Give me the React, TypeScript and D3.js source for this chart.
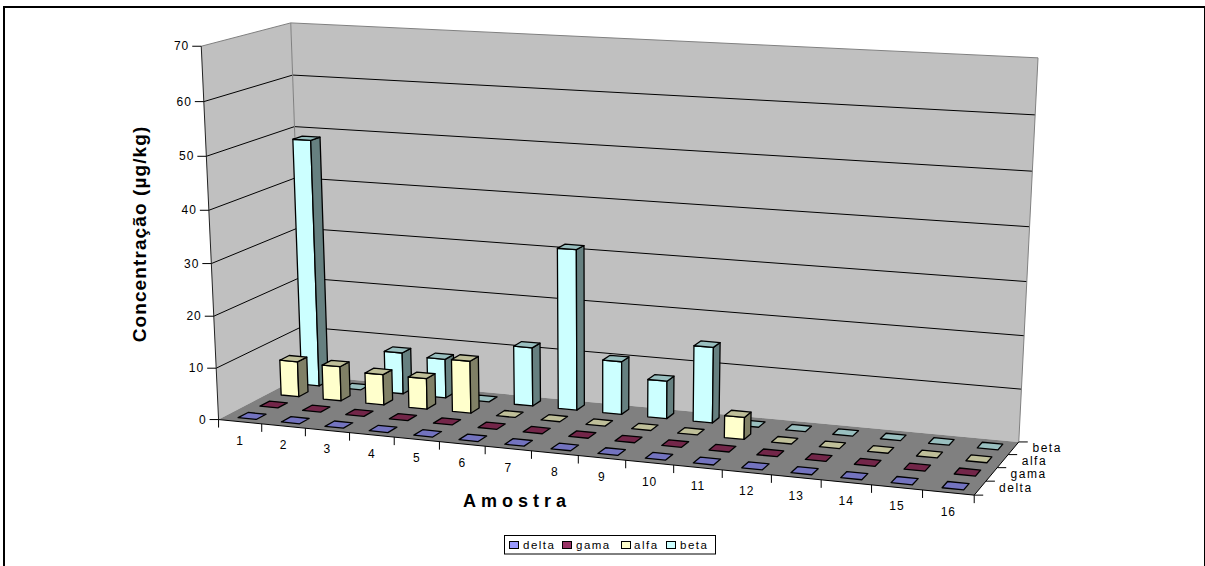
import React, { useMemo } from "react";
import * as d3 from "d3";

// Sample labels and tick values
const samples = ["1","2","3","4","5","6","7","8","9","10","11","12","13","14","15","16"];
const seriesNames = ["delta","gama","alfa","beta"];
const valueTicks = [0,10,20,30,40,50,60,70];

// Concentration per sample (µg/kg)
const delta = [0,0,0,0,0,0,0,0,0,0,0,0,0,0,0,0];
const gama = [0,0,0,0,0,0,0,0,0,0,0,0,0,0,0,0];
const alfa = [7,6.8,6,6,10.2,0,0,0,0,0,4.2,0,0,0,0,0];
const beta = [48.7,0,8.2,7.7,0,11.5,31.2,10.3,7.3,14.6,0,0,0,0,0,0];
const seriesValues = [delta, gama, alfa, beta];

// Face colours per series: front, top, side
const frontColors = ["#9999FF","#993366","#FFFFCC","#CCFFFF"];
const topColors = ["#7373BF","#732649","#BFBF99","#99BFBF"];
const sideColors = ["#4D4D80","#4D1A33","#808066","#668080"];

const FONT = "'Liberation Sans', Arial, sans-serif";

type V3 = [number, number, number];

// Camera calibration: box corners in unit coordinates and where they land on the page
const boxCorners: [V3, [number, number]][] = [
  [[0,0,0],[219,419]],
  [[1,0,0],[974,496]],
  [[1,0,1],[1019,441]],
  [[0,0,1],[303,376]],
  [[0,1,0],[201,46]],
  [[0,1,1],[291,23]],
  [[1,1,1],[1038,58]],
];

// Least-squares fit of a 3x4 projective camera with its last entry fixed to 1
function fitCamera(pairs: [V3,[number,number]][]): number[] {
  const rows: number[][] = [];
  const rhs: number[] = [];
  for (const [[X,Y,Z],[u,v]] of pairs) {
    rows.push([X,Y,Z,1,0,0,0,0,-u*X,-u*Y,-u*Z]); rhs.push(u);
    rows.push([0,0,0,0,X,Y,Z,1,-v*X,-v*Y,-v*Z]); rhs.push(v);
  }
  const n = 11;
  const A = d3.range(n).map(i => {
    const r = d3.range(n).map(j => d3.sum(rows, row => row[i]*row[j]));
    r.push(d3.sum(rows, (row,k) => row[i]*rhs[k]));
    return r;
  });
  for (let c = 0; c < n; c++) {
    let piv = c;
    for (let r = c+1; r < n; r++) if (Math.abs(A[r][c]) > Math.abs(A[piv][c])) piv = r;
    [A[c],A[piv]] = [A[piv],A[c]];
    for (let r = 0; r < n; r++) {
      if (r === c) continue;
      const f = A[r][c]/A[c][c];
      for (let k = c; k <= n; k++) A[r][k] -= f*A[c][k];
    }
  }
  return d3.range(n).map(i => A[i][n]/A[i][i]);
}

export default function App() {
  const cam = useMemo(() => fitCamera(boxCorners), []);
  const project = (x:number,y:number,z:number):[number,number] => {
    const w = cam[8]*x+cam[9]*y+cam[10]*z+1;
    return [(cam[0]*x+cam[1]*y+cam[2]*z+cam[3])/w,(cam[4]*x+cam[5]*y+cam[6]*z+cam[7])/w];
  };
  const poly = (pts:[number,number][]) => pts.map(p => `${p[0].toFixed(2)},${p[1].toFixed(2)}`).join(" ");

  const yScale = d3.scaleLinear().domain([0,70]).range([0,1]);
  const xScale = d3.scaleBand<string>().domain(samples).range([0,1]).paddingInner(0.58).paddingOuter(0.29).align(0.54);
  const zScale = d3.scaleBand<string>().domain(seriesNames).range([0,1]).paddingInner(0.55).paddingOuter(0.275);
  const tickSlot = d3.scaleLinear().domain([0,samples.length]).range([0,1]);
  const depthSlot = d3.scaleLinear().domain([0,seriesNames.length]).range([0,1]);
  const labelSlot = d3.scaleBand<string>().domain(samples).range([0,1]);

  const walls = [
    { pts:[[0,0,0],[0,1,0],[0,1,1],[0,0,1]] as V3[], fill:"#C0C0C0" },
    { pts:[[0,0,1],[0,1,1],[1,1,1],[1,0,1]] as V3[], fill:"#C0C0C0" },
    { pts:[[0,0,0],[1,0,0],[1,0,1],[0,0,1]] as V3[], fill:"#808080" },
  ];

  // Back rows are painted first so nearer bars cover them
  const bars = d3.range(seriesNames.length - 1, -1, -1).flatMap(si =>
    samples.map((s,i) => {
      const x0 = xScale(s)!, x1 = x0 + xScale.bandwidth();
      const z0 = zScale(seriesNames[si])!, z1 = z0 + zScale.bandwidth();
      const top = yScale(seriesValues[si][i]);
      return {
        key:`${si}-${i}`, si, height: top,
        front:[project(x0,0,z0),project(x1,0,z0),project(x1,top,z0),project(x0,top,z0)],
        side:[project(x1,0,z0),project(x1,0,z1),project(x1,top,z1),project(x1,top,z0)],
        cap:[project(x0,top,z0),project(x1,top,z0),project(x1,top,z1),project(x0,top,z1)],
      };
    })
  );

  const legendItems = [
    { keyX:509, textX:523 },
    { keyX:562, textX:576 },
    { keyX:621, textX:634 },
    { keyX:666, textX:680 },
  ];

  const edge = (a:V3,b:V3,stroke:string,k:string) => {
    const p=project(...a), q=project(...b);
    return <line key={k} x1={p[0]} y1={p[1]} x2={q[0]} y2={q[1]} stroke={stroke} strokeWidth={1}/>;
  };

  return (
    <svg width={1205} height={566} style={{position:"absolute",left:0,top:0,background:"#fff"}} fontFamily={FONT}>
      {/* Page frame, open at the bottom */}
      <rect x={3} y={6} width={2} height={560} fill="#000"/>
      <rect x={3} y={6} width={1202} height={2} fill="#000"/>
      <rect x={1204} y={6} width={1} height={560} fill="#000"/>

      {walls.map((w,i) => <polygon key={i} points={poly(w.pts.map(p => project(...p)))} fill={w.fill}/>)}

      {/* Grid lines across both walls */}
      {valueTicks.slice(1,-1).map(v => {
        const y = yScale(v);
        return <polyline key={v} fill="none" stroke="#000" strokeWidth={1}
          points={poly([project(0,y,0),project(0,y,1),project(1,y,1)])}/>;
      })}

      {/* Wall and floor outlines */}
      {edge([0,1,0],[0,1,1],"#808080","e1")}
      {edge([0,1,1],[1,1,1],"#808080","e2")}
      {edge([0,0,1],[0,1,1],"#808080","e3")}
      {edge([1,0,1],[1,1,1],"#808080","e4")}
      {edge([0,0,0],[0,1,0],"#222","e5")}
      {edge([0,0,0],[1,0,0],"#000","e6")}
      {edge([1,0,0],[1,0,1],"#000","e7")}

      {/* Value axis */}
      {valueTicks.map(v => {
        const p = project(0,yScale(v),0);
        return <g key={v}>
          <line x1={p[0]-9} y1={p[1]} x2={p[0]} y2={p[1]} stroke="#000"/>
          <text x={p[0]-12} y={p[1]+4} textAnchor="end" fontSize={12} letterSpacing={1} fill="#000">{v}</text>
        </g>;
      })}

      {/* Sample axis */}
      {d3.range(samples.length+1).map(i => {
        const p = project(tickSlot(i),0,0);
        return <line key={i} x1={p[0]} y1={p[1]} x2={p[0]} y2={p[1]+8} stroke="#000"/>;
      })}
      {samples.map(s => {
        const p = project(labelSlot(s)!+labelSlot.bandwidth()/2,0,0);
        return <text key={s} x={p[0]} y={p[1]+23} textAnchor="middle" fontSize={12} letterSpacing={1} fill="#000">{s}</text>;
      })}

      {/* Series axis */}
      {d3.range(seriesNames.length+1).map(i => {
        const p = project(1,0,depthSlot(i));
        return <line key={i} x1={p[0]} y1={p[1]} x2={p[0]+9} y2={p[1]} stroke="#000"/>;
      })}
      {seriesNames.map(s => {
        const p = project(1,0,zScale(s)!+zScale.bandwidth()/2);
        return <text key={s} x={p[0]+19} y={p[1]+4} fontSize={12} letterSpacing={1.5} fill="#000">{s}</text>;
      })}

      {/* Bars */}
      {bars.map(b => (
        <g key={b.key} stroke="#000" strokeWidth={1.3} strokeLinejoin="round">
          {b.height > 0 && <polygon points={poly(b.front)} fill={frontColors[b.si]}/>}
          {b.height > 0 && <polygon points={poly(b.side)} fill={sideColors[b.si]}/>}
          <polygon points={poly(b.cap)} fill={topColors[b.si]}/>
        </g>
      ))}

      {/* Axis titles */}
      <text transform="translate(146,234) rotate(-90)" textAnchor="middle" fontSize={19} letterSpacing={1.1} fontWeight="bold" fill="#000">Concentração (µg/kg)</text>
      <text x={517} y={507} textAnchor="middle" fontSize={18} fontWeight="bold" letterSpacing={5} fill="#000">Amostra</text>

      {/* Legend */}
      <rect x={504.5} y={535.5} width={211} height={18.5} fill="#fff" stroke="#000"/>
      {seriesNames.map((s,i) => (
        <g key={s}>
          <rect x={legendItems[i].keyX+0.5} y={541.5} width={9} height={7} fill={frontColors[i]} stroke="#000"/>
          <text x={legendItems[i].textX} y={549} fontSize={11.5} letterSpacing={1.5} fill="#000">{s}</text>
        </g>
      ))}
    </svg>
  );
}
